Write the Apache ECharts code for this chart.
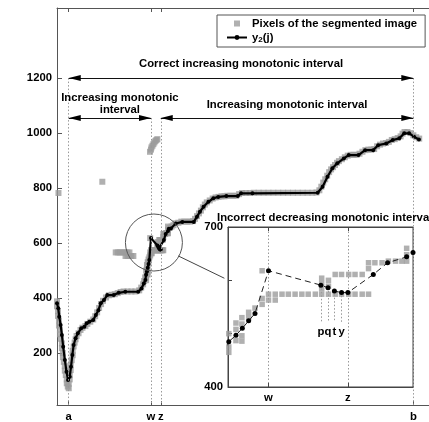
<!DOCTYPE html>
<html><head><meta charset="utf-8">
<script src="https://cdn.jsdelivr.net/npm/echarts@6/dist/echarts.min.js"></script>
<style>html,body{margin:0;padding:0;background:#fff}#c{width:429px;height:422px}</style>
</head><body><div id="c"></div>
<script>
// ---- data ----
const tickJ = [12, 96, 106, 364];
const tickNames = ['a', 'w', 'z', 'b'];
const yTicks = [200, 400, 600, 800, 1000, 1200];
const insetTickJ = [96, 106];
const insetTickNames = ['w', 'z'];
const insetYTicks = [400, 500, 600, 700];
const insetYLabels = [400, 700];

const y2J = [0,1.3,2.3,3.7,5,6.3,8,9.7,11.3,13,14.3,15.7,17,19,21.3,24.7,28,30.3,33,37,39.7,42.3,44.7,48,51.3,58,63,69.7,83,86.3,88.7,90.3,91,91.9,92.7,93.5,94.3,96,102.6,103.5,104.3,105.2,106,109.2,111,113.4,114.2,116.3,121.3,128,139.7,143,146,149.7,154.7,159.7,164.7,173,184.7,188,199.7,266.3,271.3,276.3,281.3,286.3,293,298,308,314.7,323,328,336.3,343,349.7,354.7,359.7,364.7,369.7];
const y2V = [381,363,332,302,266,223,175,132,102,114,150,193,229,254,272,290,296,308,314,320,338,356,381,393,411,411,419,423,423,435,453,466,485,497,510,524,538,618,591,586,580,577,577,611,633,644,652,653,671,677,677,696,714,732,750,763,768,771,771,781,781,783,805,841,872,890,908,920,920,938,938,956,962,975,981,999,999,987,977];

const pixels = [
[0,388],[0,370],[1,352],[1,335],[2,318],[2,300],[3,285],[3,268],[4,252],[5,235],[5,218],[6,200],[6,185],[7,168],[8,152],[8,136],[9,120],[10,104],[10,90],[11,78],[12,72],[12,88],[13,104],[13,120],[14,138],[14,156],[15,174],[16,192],[16,208],[17,224],[18,238],[19,250],[20,262],[22,272],[24,284],[26,292],[29,298],[31,306],[34,314],[37,322],[39,334],[41,348],[43,364],[45,378],[47,390],[50,402],[53,410],[56,412],[59,414],[62,418],[65,422],[68,424],[72,424],[76,424],[80,424],[84,428],[86,438],[88,450],[89,462],[90,475],
[1.5,782],[46.3,823],
[60,566],[62,566],[64,566],[66,566],[68,566],[70,566],[72,566],[74,566],[70,553],[72,553],[74,553],[76,553],[78,553],
[95,932],[96,940],[96.5,948],[97.5,954],[98.5,960],[99.5,966],[100.5,971],[101.5,975],[102.5,978],
[91,500],[91,475],[91,465],[91.9,520],[91.9,508],[91.9,487],[92.65,530],[92.65,518],[92.65,496],[92.65,486],[93.5,540],[93.5,530],[94.3,548],[95.2,555],[95.2,566],[95.2,618],
[96,574],[96.85,574],[97.7,574],[98.5,574],[99.35,574],[100.2,574],[101,574],[101.9,574],[102.7,574],[103.55,574],[104.4,574],[105.2,574],[106.1,574],[106.9,574],[107.8,574],[108.6,574],
[96,563],[96.85,563],
[102.7,604],[102.7,594],[102.7,584],[103.55,600],[103.55,589],
[104.4,611],[105.2,611],[106.1,611],[106.9,611],[107.8,611],
[108.6,622],[108.6,633],[109.4,633],[110.3,633],[111.1,636],[112,636],[112.8,636],
[113.4,660],[113.4,648],[113.4,636],
[115,655],[117,660],[119,665],[121,672],[124,674],[127,678],[130,678],[133,678],[136,678],[139,680],[141,688],[143,698],[145,708],[147,718],[149,730],[151,740],[153,748],[156,755],[159,762],[162,766],[165,768],[168,770],[171,770],[174,772],[177,772],[180,772],[183,772],[186,778],[189,782],[193,782],[197,782],[201,783],[206,783],[211,783],[216,783],[221,783],[226,783],[231,783],[236,783],[241,783],[246,783],[251,783],[256,783],[261,783],[265,784],[268,792],[270,805],[272,820],[274,832],[276,845],[278,858],[280,868],[282,876],[284,884],[286,892],[288,898],[291,905],[294,912],[297,918],[300,921],[303,921],[306,921],[309,925],[312,932],[315,938],[318,940],[321,940],[324,942],[327,952],[330,958],[333,962],[336,964],[339,968],[342,975],[345,978],[348,982],[351,988],[353,998],[355,1004],[358,1004],[361,1000],[364,992],[367,985],[370,980]
];

// interval arrows
const intStart = [12, 12, 106];
const intEnd = [364, 96, 364];
const intLevel = [1200, 1055, 1055];
const intText = ['Correct increasing monotonic interval', 'Increasing monotonic\ninterval', 'Increasing monotonic interval'];
// dotted guide lines
const guideJ = [12, 96, 106, 364];
const guideTop = [1200, 1055, 1055, 1200];
// pqty
const pqtyNames = ['p', 'q', 't', 'y'];
const pqtyJ = [102.6, 103.5, 104.3, 105.2];
const insetTitle = 'Incorrect decreasing monotonic interval';

const X_MIN = 0, X_MAX = 380, Y_MIN = 11, Y_MAX = 1455;
const IX_MIN = 90.9, IX_MAX = 114.2, IY_MIN = 400, IY_MAX = 700;

// ---- chart ----
const FONT = '"Liberation Sans", Arial, Helvetica, sans-serif';
const txt = { color: '#000', fontSize: 11.3, fontWeight: 'bold', fontFamily: FONT };
const AX = '#555';
const PIX = 'Pixels of the segmented image';
const Y2 = 'y2';
const y2Data = y2J.map((j, i) => [j, y2V[i]]);
const DOT = { type: [1.5, 2], color: '#999', width: 1 };

const guideLines = guideJ.map((j, i) => [
  { coord: [j, guideTop[i]], lineStyle: DOT },
  { coord: [j, Y_MIN] }]);
const shafts = intStart.map((s, i) => [
  { coord: [s, intLevel[i]], lineStyle: { type: 'solid', color: '#111', width: 1.2 } },
  { coord: [intEnd[i], intLevel[i]] }]);
const connector = [[{ coord: [124, 553], lineStyle: { type: 'solid', color: '#444', width: 1 } }, { coord: [171, 472] }]];

const heads = [];
intStart.forEach((s, i) => {
  heads.push({ coord: [s, intLevel[i]], symbol: 'triangle', symbolSize: [6, 12], symbolRotate: 90, symbolOffset: [6, 0], itemStyle: { color: '#000' }, label: { show: false } });
  heads.push({ coord: [intEnd[i], intLevel[i]], symbol: 'triangle', symbolSize: [6, 12], symbolRotate: -90, symbolOffset: [-6, 0], itemStyle: { color: '#000' }, label: { show: false } });
});
const textOffsets = [[0, -14], [10, -14], [0, -13]];
const textX = [(intStart[0] + intEnd[0]) / 2, (intStart[1] + intEnd[1]) / 2, (intStart[2] + intEnd[2]) / 2];
const texts = intText.map((t, i) => ({
  coord: [textX[i], intLevel[i]], symbol: 'circle', symbolSize: 1, itemStyle: { color: 'transparent' },
  label: { show: true, position: 'inside', formatter: t, offset: textOffsets[i], align: 'center', verticalAlign: 'middle', lineHeight: 12, ...txt }
}));
const zoomCircle = { coord: [99, 602], symbol: 'circle', symbolSize: 57, itemStyle: { color: 'transparent', borderColor: '#555', borderWidth: 1 }, label: { show: false } };

const pqtyLines = pqtyJ.map((j, i) => [
  { coord: [j, y2V[y2J.indexOf(j)] - 6], lineStyle: DOT },
  { coord: [j, 522] }]);
const pqtyLabels = pqtyJ.map((j, i) => ({
  coord: [j, 522], symbol: 'circle', symbolSize: 1, itemStyle: { color: 'transparent' },
  label: { show: true, position: 'inside', formatter: pqtyNames[i], offset: [0, 10], align: 'center', verticalAlign: 'middle', ...txt }
}));
const insetGuides = insetTickJ.map(j => [
  { coord: [j, IY_MIN], lineStyle: DOT },
  { coord: [j, IY_MAX] }]);

const tickFmt = (vals, names) => v => { const k = vals.findIndex(x => Math.abs(x - v) < 1e-6); return k >= 0 ? names[k] : ''; };

const option = {
  animation: false,
  backgroundColor: '#fff',
  textStyle: { fontFamily: FONT },
  legend: {
    left: 217, top: 15, orient: 'vertical', padding: [3, 8, 3, 9], itemGap: 3,
    itemWidth: 20, itemHeight: 6, borderColor: '#555', borderWidth: 1, backgroundColor: '#fff',
    textStyle: { ...txt, rich: { s: { fontSize: 8, fontWeight: 'bold', color: '#000', verticalAlign: 'bottom', padding: [5, 0, 0, 0], fontFamily: FONT } } },
    data: [{ name: PIX, icon: 'path://M0,0L1,0L1,1L0,1Z' }, { name: Y2 }],
    formatter: n => n === Y2 ? 'y{s|2}(j)' : n
  },
  grid: [
    { left: 57, top: 8, width: 380, height: 397, show: false },
    { left: 228, top: 227, width: 185, height: 160, show: true, backgroundColor: '#fff', borderColor: '#444', borderWidth: 1, z: 10 }
  ],
  xAxis: [
    { gridIndex: 0, type: 'value', min: X_MIN, max: X_MAX, position: 'bottom',
      axisLine: { lineStyle: { color: AX } }, splitLine: { show: false },
      axisTick: { inside: true, length: 4, customValues: tickJ, lineStyle: { color: AX } },
      axisLabel: { customValues: tickJ, formatter: tickFmt(tickJ, tickNames), margin: 6, ...txt } },
    { gridIndex: 0, type: 'value', min: X_MIN, max: X_MAX, position: 'top',
      axisLine: { lineStyle: { color: AX } }, splitLine: { show: false },
      axisTick: { inside: true, length: 4, customValues: tickJ, lineStyle: { color: AX } },
      axisLabel: { show: false } },
    { gridIndex: 1, type: 'value', min: IX_MIN, max: IX_MAX, position: 'bottom', z: 11,
      axisLine: { lineStyle: { color: '#444' } }, splitLine: { show: false },
      axisTick: { inside: true, length: 4, customValues: insetTickJ, lineStyle: { color: '#444' } },
      axisLabel: { customValues: insetTickJ, formatter: tickFmt(insetTickJ, insetTickNames), margin: 5, ...txt } },
    { gridIndex: 1, type: 'value', min: IX_MIN, max: IX_MAX, position: 'top', z: 11,
      axisLine: { lineStyle: { color: '#444' } }, splitLine: { show: false },
      axisTick: { inside: true, length: 4, customValues: insetTickJ, lineStyle: { color: '#444' } },
      axisLabel: { show: false } }
  ],
  yAxis: [
    { gridIndex: 0, type: 'value', min: Y_MIN, max: Y_MAX,
      axisLine: { show: true, lineStyle: { color: AX } }, splitLine: { show: false },
      axisTick: { show: true, inside: true, length: 5, customValues: yTicks, lineStyle: { color: AX } },
      axisLabel: { customValues: yTicks, margin: 5, formatter: v => String(v), ...txt } },
    { gridIndex: 1, type: 'value', min: IY_MIN, max: IY_MAX, z: 11,
      axisLine: { show: true, lineStyle: { color: '#444' } }, splitLine: { show: false },
      axisTick: { show: true, inside: true, length: 4, customValues: insetYTicks, lineStyle: { color: '#444' } },
      axisLabel: { customValues: insetYLabels, margin: 5, formatter: v => String(v), ...txt } }
  ],
  series: [
    { name: PIX, type: 'scatter', xAxisIndex: 0, yAxisIndex: 0, data: pixels, symbol: 'rect', symbolSize: 6,
      itemStyle: { color: '#9c9c9c' }, z: 2, silent: true },
    { name: Y2, type: 'line', xAxisIndex: 0, yAxisIndex: 0, data: y2Data, symbol: 'circle', symbolSize: 4,
      showSymbol: true, lineStyle: { color: '#000', width: 2.2 }, itemStyle: { color: '#000' }, z: 3, silent: true,
      markLine: { silent: true, z: 4, symbol: 'none', label: { show: false }, data: [...guideLines, ...shafts, ...connector] },
      markPoint: { silent: true, z: 5, data: [...heads, ...texts, zoomCircle] } },
    { name: PIX, type: 'scatter', xAxisIndex: 2, yAxisIndex: 1, data: pixels, symbol: 'rect', symbolSize: 5.5,
      itemStyle: { color: '#9c9c9c' }, z: 12, silent: true, clip: true },
    { name: Y2, type: 'line', xAxisIndex: 2, yAxisIndex: 1, data: y2Data, symbol: 'circle', symbolSize: 5,
      showSymbol: true, lineStyle: { color: '#222', width: 1, type: [6, 4] }, itemStyle: { color: '#000' }, z: 13, silent: true, clip: true,
      markLine: { silent: true, z: 11, symbol: 'none', label: { show: false }, data: [...insetGuides, ...pqtyLines] },
      markPoint: { silent: true, z: 14, data: [...pqtyLabels, { coord: [IX_MIN, IY_MAX], symbol: 'circle', symbolSize: 1, itemStyle: { color: 'transparent' },
        label: { show: true, position: 'inside', formatter: insetTitle, align: 'left', verticalAlign: 'middle', offset: [-11, -9], ...txt } }] } }
  ]
};
const chart = echarts.init(document.getElementById('c'));
chart.setOption(option);
</script></body></html>
